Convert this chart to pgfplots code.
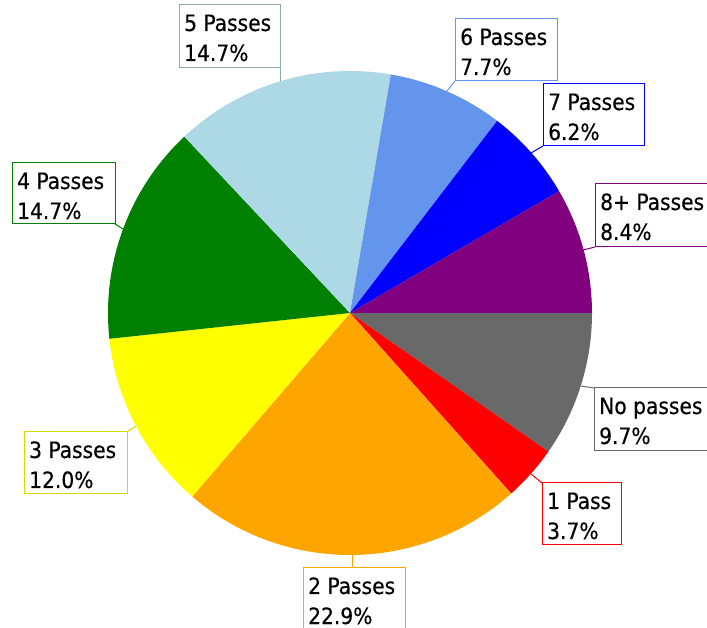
\documentclass[border=0pt]{standalone}
\usepackage{fontspec}
\setmainfont{DejaVu Sans Condensed}[FakeBold=0.3]
\usepackage{pgfplots}
\pgfplotsset{compat=1.18}
\definecolor{cNo}{HTML}{696969}
\definecolor{cOne}{HTML}{FF0000}
\definecolor{cTwo}{HTML}{FFA500}
\definecolor{cThree}{HTML}{FFFF00}
\definecolor{cFour}{HTML}{008000}
\definecolor{cFive}{HTML}{ADD8E6}
\definecolor{cSix}{HTML}{6495ED}
\definecolor{cSeven}{HTML}{0000FF}
\definecolor{cEight}{HTML}{800080}
% slice: #1 colour, #2 cumulative start %, #3 cumulative end %
\newcommand{\slice}[3]{%
  \addplot[fill=#1, draw=none, domain=#2:#3, samples=90]
    ({350+242*cos(-3.6*x)},{-313+242*sin(-3.6*x)}) -- (350,-313) -- cycle;}
% label: #1 colour, #2 left, #3 top, #4 right, #5 bottom, #6 line1, #7 line2, #8 leader start, #9 leader end
\newcommand{\lbl}[9]{%
  \draw[#1, line width=1bp] #8 -- #9;
  \draw[#1, line width=1bp, fill=white] (#2,-#3) rectangle (#4,-#5);
  \node[anchor=base west, inner sep=0pt, font=\fontsize{22.5bp}{30bp}\selectfont] at (#2+5,-#3-26) {#6};
  \node[anchor=base west, inner sep=0pt, font=\fontsize{22.5bp}{30bp}\selectfont] at (#2+5,-#3-56) {#7};}
\begin{document}
\begin{tikzpicture}
\begin{axis}[
  hide axis, scale only axis,
  width=707bp, height=628bp,
  xmin=0, xmax=707, ymin=-628, ymax=0,
  clip=false,
]
% values (percent): No passes 9.7, 1 Pass 3.7, 2 Passes 22.9, 3 Passes 12.0,
% 4 Passes 14.7, 5 Passes 14.7, 6 Passes 7.7, 7 Passes 6.2, 8+ Passes 8.4
\slice{cNo}{0}{9.7}
\slice{cOne}{9.7}{13.4}
\slice{cTwo}{13.4}{36.3}
\slice{cThree}{36.3}{48.3}
\slice{cFour}{48.3}{63.0}
\slice{cFive}{63.0}{77.7}
\slice{cSix}{77.7}{85.4}
\slice{cSeven}{85.4}{91.6}
\slice{cEight}{91.6}{100}
\lbl{cFive!80!black}{179}{5}{280}{68}{5 Passes}{14.7\%}{(280,-81)}{(280,-68)}
\lbl{cSix}{455}{19}{557}{81}{6 Passes}{7.7\%}{(447,-91)}{(455,-81)}
\lbl{cSeven}{543}{84}{644}{146}{7 Passes}{6.2\%}{(531,-153)}{(543,-146)}
\lbl{cEight}{595}{184}{712}{247}{8+ Passes}{8.4\%}{(583,-250)}{(595,-247)}
\lbl{cNo}{594}{388}{712}{451}{No passes}{9.7\%}{(581,-386)}{(594,-388)}
\lbl{cOne}{542}{483}{621}{545}{1 Pass}{3.7\%}{(531,-474)}{(542,-483)}
\lbl{cTwo}{303}{568}{405}{631}{2 Passes}{22.9\%}{(352,-555)}{(352,-568)}
\lbl{cThree!85!black}{24}{432}{127}{494}{3 Passes}{12.0\%}{(136,-426)}{(127,-432)}
\lbl{cFour}{12}{163}{115}{224}{4 Passes}{14.7\%}{(123,-229)}{(115,-224)}
\end{axis}
\pgfresetboundingbox
\useasboundingbox (0,0) rectangle (707bp,628bp);
\end{tikzpicture}
\end{document}
